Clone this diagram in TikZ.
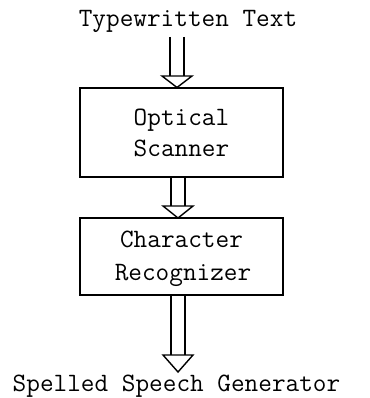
\documentclass[tikz,border=0pt]{standalone}
\usepackage{fontspec}
\begin{document}
\begin{tikzpicture}[x=1pt,y=-1pt,
  lbl/.style={font=\ttfamily\fontsize{26.5}{30}\selectfont, inner sep=0pt, anchor=base},
  blk/.style={draw, line width=1.4pt, minimum width=203pt, inner sep=0pt},
  arr/.style={line width=1.4pt}]
\useasboundingbox (0,0) rectangle (369,398);
\node[lbl] (top) at (188,26.5) {Typewritten Text};
\node[blk, minimum height=89pt] (b1) at (181.5,132.5) {};
\node[lbl] (t1a) at (181.5,126) {Optical};
\node[lbl] (t1b) at (181.5,156) {Scanner};
\node[blk, minimum height=77pt] (b2) at (181.5,256.5) {};
\node[lbl] (t2a) at (181.5,247) {Character};
\node[lbl] (t2b) at (183,280.5) {Recognizer};
\node[lbl] (bot) at (176.5,391.5) {Spelled Speech Generator};
% hollow arrows
\newcommand{\hollowarr}[4]{%
  \draw[arr] (#1-7,#2) -- (#1-7,#3) (#1+7,#2) -- (#1+7,#3);
  \draw[arr, line join=miter] (#1-15,#3) -- (#1+15,#3) -- (#1,#4) -- cycle;}
\hollowarr{177}{37}{76}{87.5}
\hollowarr{178}{177}{206}{218}
\hollowarr{178}{295}{355}{372}
\end{tikzpicture}
\end{document}
